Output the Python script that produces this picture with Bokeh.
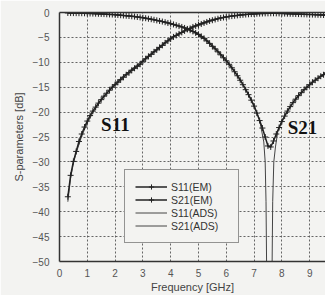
import numpy as np
from bokeh.plotting import figure
from bokeh.models import Legend, LegendItem, FixedTicker, Range1d, LinearAxis
from bokeh.core.properties import value
from bokeh.embed import file_html
from bokeh.resources import INLINE

# EM simulation: 0.3 .. 9.9 GHz, 0.1 GHz step
em_freq = [round(0.3 + 0.1 * i, 1) for i in range(97)]
s11_em = [
    -37.0, -32.7, -29.9, -27.9, -25.9, -24.4, -23.0, -21.8, -20.7, -19.8,
    -19.0, -18.2, -17.5, -16.8, -16.2, -15.6, -15.0, -14.5, -14.0, -13.5,
    -13.0, -12.5, -12.1, -11.6, -11.2, -10.8, -10.4, -9.8, -9.3, -8.8,
    -8.4, -7.9, -7.5, -7.0, -6.6, -6.1, -5.7, -5.3, -4.9, -4.6,
    -4.3, -4.0, -3.7, -3.4, -3.2, -2.9, -2.7, -2.5, -2.3, -2.1,
    -1.9, -1.7, -1.55, -1.4, -1.25, -1.1, -1.0, -0.9, -0.8, -0.72,
    -0.65, -0.58, -0.52, -0.46, -0.41, -0.36, -0.32, -0.28, -0.25, -0.22,
    -0.2, -0.18, -0.17, -0.16, -0.16, -0.17, -0.18, -0.2, -0.22, -0.24,
    -0.26, -0.28, -0.3, -0.32, -0.34, -0.36, -0.38, -0.4, -0.42, -0.44,
    -0.46, -0.48, -0.5, -0.52, -0.54, -0.56, -0.58,
]
s21_em = [
    -0.1, -0.11, -0.12, -0.13, -0.14, -0.15, -0.16, -0.18, -0.2, -0.22,
    -0.24, -0.26, -0.29, -0.32, -0.35, -0.38, -0.41, -0.45, -0.5, -0.55,
    -0.6, -0.65, -0.7, -0.76, -0.82, -0.9, -0.98, -1.06, -1.15, -1.25,
    -1.35, -1.46, -1.58, -1.7, -1.82, -1.95, -2.1, -2.25, -2.4, -2.56,
    -2.73, -2.9, -3.1, -3.3, -3.55, -3.8, -4.1, -4.4, -4.8, -5.2,
    -5.7, -6.2, -6.8, -7.3, -7.9, -8.5, -9.1, -9.7, -10.4, -11.1,
    -11.9, -12.7, -13.6, -14.5, -15.5, -16.5, -17.6, -18.8, -20.2, -21.7,
    -23.2, -25.0, -26.8, -27.0, -25.8, -24.4, -23.1, -21.9, -20.8, -19.8,
    -18.9, -18.1, -17.4, -16.7, -16.1, -15.5, -15.0, -14.5, -14.0, -13.6,
    -13.2, -12.8, -12.5, -12.1, -11.8, -11.5, -11.2,
]

# ADS circuit simulation
ads_freq_s11 = [0.3, 0.4, 0.5, 0.6, 0.8, 1.0, 1.2, 1.5, 2.0, 2.5, 3.0, 3.5, 4.0,
                4.5, 5.0, 5.5, 6.0, 6.5, 7.0, 7.5, 8.0, 8.5, 9.0, 9.5, 9.9]
s11_ads = [-38.0, -33.2, -30.3, -28.2, -24.8, -22.2, -20.1, -17.6, -14.2, -11.8,
           -9.6, -7.3, -5.1, -3.6, -2.3, -1.4, -0.85, -0.5, -0.28, -0.18,
           -0.2, -0.3, -0.4, -0.5, -0.58]
ads_freq_s21 = [0.3, 1.0, 2.0, 3.0, 4.0, 4.5, 5.0, 5.5, 6.0, 6.5, 7.0, 7.2, 7.35,
                7.4, 7.43, 7.45, 7.55, 7.65, 7.67, 7.71, 7.77, 7.85, 8.0, 8.5,
                9.0, 9.5, 9.9]
s21_ads = [-0.1, -0.18, -0.42, -1.0, -2.15, -3.0, -4.2, -6.5, -9.5, -13.4, -18.6,
           -21.6, -26.0, -30.0, -38.0, -50.0, -80.0, -50.0, -38.0, -30.0, -27.0,
           -24.0, -21.7, -17.2, -14.4, -12.4, -11.1]

x_ticks = [0, 1, 2, 3, 4, 5, 6, 7, 8, 9, 10]
y_ticks = [0, -5, -10, -15, -20, -25, -30, -35, -40, -45, -50]

label_x = [2.01, 8.74]
label_y = [-22.4, -23.0]
label_text = ["S11", "S21"]

BG = "#f3f3f1"
INK = "#222222"
FRAME = "#333333"

p = figure(width=325, height=295, output_backend="svg", toolbar_location=None,
           x_range=Range1d(0, 9.57), y_range=Range1d(-50, 0),
           min_border_left=59, min_border_right=0, min_border_top=12,
           min_border_bottom=32)
p.background_fill_color = BG
p.border_fill_color = BG
p.outline_line_color = None

for ax in (p.xaxis, p.yaxis):
    ax.axis_line_color = FRAME
    ax.axis_line_width = 1.5
    ax.major_tick_line_color = None
    ax.minor_tick_line_color = None
    ax.major_tick_out = 0
    ax.major_tick_in = 0
    ax.minor_tick_out = 0
    ax.minor_tick_in = 0
    ax.major_label_text_font = "Liberation Sans"
    ax.major_label_text_font_size = "10px"
    ax.major_label_text_color = "#555555"
    ax.axis_label_text_font = "Liberation Sans"
    ax.axis_label_text_font_size = "11px"
    ax.axis_label_text_font_style = "normal"
    ax.axis_label_text_color = "#444444"

p.xaxis.ticker = FixedTicker(ticks=x_ticks)
p.yaxis.ticker = FixedTicker(ticks=y_ticks)
p.xaxis.axis_label = "Frequency [GHz]"
p.yaxis.axis_label = "S-parameters [dB]"
p.xaxis.major_label_standoff = 7
p.yaxis.major_label_standoff = 10
p.xaxis.axis_label_standoff = 1
p.yaxis.axis_label_standoff = 5

# top frame line (no ticks, no labels)
top_axis = LinearAxis(ticker=FixedTicker(ticks=[]), axis_line_color=FRAME,
                      axis_line_width=1.5, major_tick_out=0, major_tick_in=0,
                      minor_tick_out=0, minor_tick_in=0,
                      major_label_text_font_size="0px", major_label_standoff=0)
p.add_layout(top_axis, "above")

for g in (p.xgrid, p.ygrid):
    g.grid_line_color = "#555555"
    g.grid_line_dash = "2 2"
    g.grid_line_width = 1
    g.grid_line_alpha = 0.9
p.xgrid.ticker = FixedTicker(ticks=x_ticks)
p.ygrid.ticker = FixedTicker(ticks=y_ticks)

r_s11_ads = p.line(ads_freq_s11, s11_ads, line_color="#444444", line_width=1)
r_s21_ads = p.line(ads_freq_s21, s21_ads, line_color="#444444", line_width=1)

r_s11_em_l = p.line(em_freq, s11_em, line_color=INK, line_width=1.5)
r_s11_em_m = p.scatter(em_freq, s11_em, marker="cross", size=6,
                       line_color=INK, line_width=1)
r_s21_em_l = p.line(em_freq, s21_em, line_color=INK, line_width=1.5)
r_s21_em_m = p.scatter(em_freq, s21_em, marker="cross", size=6,
                       line_color=INK, line_width=1)

p.text(x=label_x, y=label_y, text=label_text,
       text_font=value("Liberation Serif"), text_font_style="bold",
       text_font_size="19px", text_color="#111111",
       text_align="center", text_baseline="middle")

legend = Legend(items=[
    LegendItem(label="S11(EM)", renderers=[r_s11_em_l, r_s11_em_m]),
    LegendItem(label="S21(EM)", renderers=[r_s21_em_l, r_s21_em_m]),
    LegendItem(label="S11(ADS)", renderers=[r_s11_ads]),
    LegendItem(label="S21(ADS)", renderers=[r_s21_ads]),
], location=(65, 18))
legend.background_fill_color = BG
legend.background_fill_alpha = 1
legend.border_line_color = FRAME
legend.border_line_width = 1
legend.label_text_font = "Liberation Sans"
legend.label_text_font_size = "10.5px"
legend.label_text_color = "#333333"
legend.padding = 10
legend.spacing = 0
legend.margin = 0
legend.glyph_width = 32
legend.glyph_height = 13
legend.label_height = 13
legend.label_width = 57
legend.label_standoff = 4
p.add_layout(legend, "center")

open("out.html", "w").write(file_html(p, INLINE))
